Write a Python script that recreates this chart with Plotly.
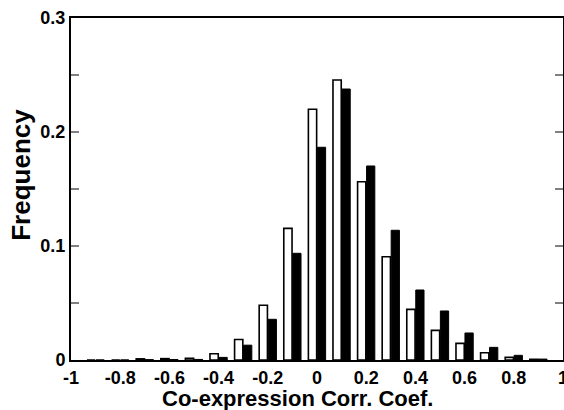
import plotly.graph_objects as go

bins = [-0.9, -0.8, -0.7, -0.6, -0.5, -0.4, -0.3, -0.2, -0.1, 0.0,
        0.1, 0.2, 0.3, 0.4, 0.5, 0.6, 0.7, 0.8, 0.9]
freq_white = [0.0, 0.0, 0.0010, 0.0012, 0.0015, 0.0055, 0.018, 0.048, 0.1155, 0.220,
              0.2456, 0.1564, 0.0906, 0.0444, 0.026, 0.0146, 0.0064, 0.0023, 0.0006]
freq_black = [0.0, 0.0, 0.0003, 0.0004, 0.0005, 0.0023, 0.013, 0.0357, 0.0936, 0.1866,
              0.2377, 0.1702, 0.1138, 0.0614, 0.043, 0.0237, 0.0111, 0.0041, 0.0008]
x_ticks = [-1, -0.8, -0.6, -0.4, -0.2, 0, 0.2, 0.4, 0.6, 0.8, 1]
x_ticktext = ["-1", "-0.8", "-0.6", "-0.4", "-0.2", "0", "0.2", "0.4", "0.6", "0.8", "1"]
y_ticks = [0, 0.1, 0.2, 0.3]
y_ticktext = ["0", "0.1", "0.2", "0.3"]

FONT = "Liberation Sans, Arial, Helvetica, sans-serif"

fig = go.Figure()
fig.add_trace(go.Bar(x=bins, y=freq_white, marker=dict(color="white", line=dict(color="black", width=1.6)),
                     showlegend=False))
fig.add_trace(go.Bar(x=bins, y=freq_black, marker=dict(color="black", line=dict(color="black", width=1)),
                     showlegend=False))

fig.update_layout(
    width=564, height=410,
    margin=dict(l=71, r=1, t=18, b=50, autoexpand=False),
    paper_bgcolor="white", plot_bgcolor="white",
    barmode="group", bargap=0.27, bargroupgap=0.08,
    font=dict(family=FONT, color="black"),
    annotations=[
        dict(text="<b>Frequency</b>", xref="paper", yref="paper", x=-0.102, y=0.541,
             textangle=-90, showarrow=False, font=dict(size=26, family=FONT, color="black"),
             xanchor="center", yanchor="middle"),
        dict(text="<b>Co-expression Corr. Coef.</b>", xref="paper", yref="paper", x=0.461, y=-0.112,
             showarrow=False, font=dict(size=22, family=FONT, color="black"),
             xanchor="center", yanchor="middle"),
    ],
)

fig.update_xaxes(
    range=[-1, 1], tickmode="array", tickvals=x_ticks, ticktext=x_ticktext,
    ticks="", showgrid=False, zeroline=False, automargin=False, ticklabeloverflow="allow",
    showline=True, linecolor="black", linewidth=2, mirror=True,
    tickfont=dict(size=18, family=FONT, color="black", weight="bold"),
)
fig.update_yaxes(
    range=[0, 0.3], tickmode="array", tickvals=y_ticks, ticktext=y_ticktext,
    ticks="inside", ticklen=8, tickcolor="#808080", tickwidth=1.5,
    minor=dict(tickvals=[0.05, 0.15, 0.25], ticks="inside", ticklen=8, tickcolor="#808080", tickwidth=1.5),
    showgrid=False, zeroline=False, automargin=False,
    showline=True, linecolor="black", linewidth=2, mirror="allticks",
    tickfont=dict(size=18, family=FONT, color="black", weight="bold"),
)

fig.write_html("out.html", config={"displayModeBar": False},
               post_script="document.body.style.margin='0';document.body.style.overflow='hidden';")
